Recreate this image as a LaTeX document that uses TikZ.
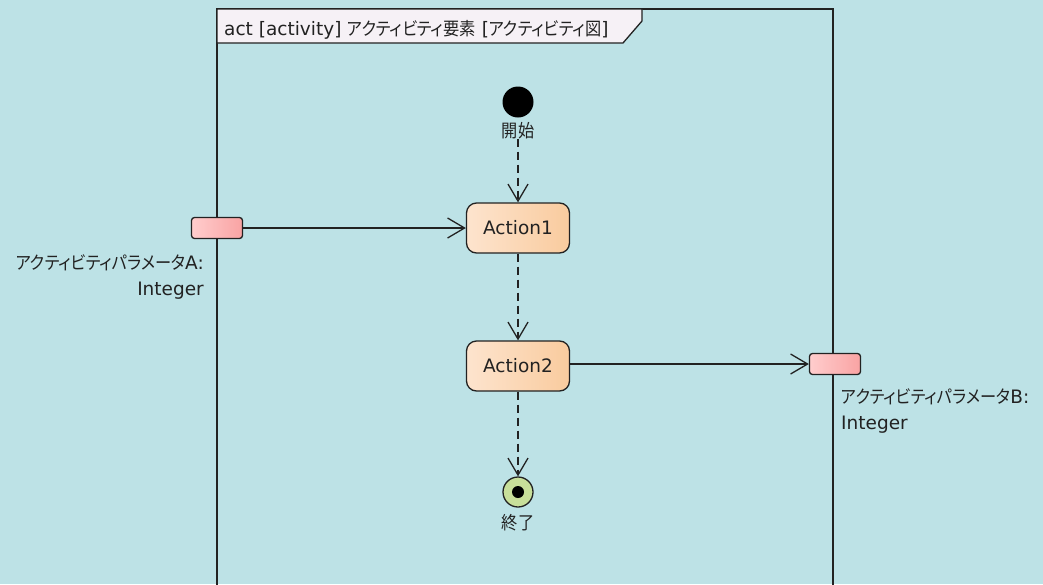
\documentclass[tikz,border=0pt]{standalone}
\usepackage{fontspec}
\setmainfont{DejaVu Sans}
\newfontfamily\jp{Noto Sans CJK JP}[RawFeature=+palt, FakeStretch=0.9]
\usetikzlibrary{arrows.meta}
\definecolor{bg}{HTML}{BDE2E6}
\definecolor{line}{HTML}{222222}
\definecolor{actL}{HTML}{FDE4CE}
\definecolor{actR}{HTML}{F9CB9E}
\definecolor{pinL}{HTML}{FFCDCD}
\definecolor{pinR}{HTML}{F9A3A3}
\definecolor{finfill}{HTML}{C8DF9A}
\definecolor{tabfill}{HTML}{F6F1F6}
\newcommand{\J}[1]{{\jp\fontsize{18}{25}\selectfont #1}}
\tikzset{
  actbox/.style={draw=line, line width=1.3pt, rounded corners=10pt, minimum width=103pt, minimum height=50pt, left color=actL, right color=actR, inner sep=0pt, font=\fontsize{18.5}{25}\selectfont, text=line},
  pinbox/.style={draw=line, line width=1.3pt, rounded corners=3pt, minimum width=51pt, minimum height=21pt, left color=pinL, right color=pinR, inner sep=0pt},
  lbl/.style={font=\fontsize{18.5}{25}\selectfont, text=line, inner sep=0pt},
  flow/.style={draw=line, line width=1.3pt, -{Straight Barb[length=17pt,width=20pt,line width=1.3pt]}},
  ctrl/.style={flow, dash pattern=on 8pt off 5pt},
}
\begin{document}
\begin{tikzpicture}[x=1pt,y=-1pt]
\fill[bg] (0,0) rectangle (1043,584);
\useasboundingbox (0,0) rectangle (1043,584);
% frame
\draw[line, line width=1.5pt] (217,590) -- (217,9) -- (833,9) -- (833,590);
\draw[line, line width=1.3pt, fill=tabfill] (217,9) -- (642,9) -- (642,21) -- (623,43) -- (217,43) -- cycle;
\node[lbl, anchor=base west] (title) at (224,35) {act [activity] \J{アクティビティ要素} [\J{アクティビティ図}]};
% nodes
\node[circle, fill=black, minimum size=31pt, inner sep=0pt] (init) at (518,102) {};
\node[lbl, anchor=base] (initlbl) at (518,137) {\J{開始}};
\node[actbox] (a1) at (518,228) {Action1};
\node[actbox] (a2) at (518,366) {Action2};
\node[circle, draw=line, line width=1.3pt, fill=finfill, minimum size=30pt, inner sep=0pt] (fin) at (518,492) {};
\node[circle, fill=black, minimum size=12pt, inner sep=0pt] (fininner) at (518,492) {};
\node[lbl, anchor=base] (finlbl) at (518,529) {\J{終了}};
\node[pinbox] (pa) at (217,228) {};
\node[pinbox] (pb) at (835,364) {};
\node[lbl, anchor=base east] (palbl1) at (204,269) {\J{アクティビティパラメータ}A:};
\node[lbl, anchor=base east] (palbl2) at (204,295) {Integer};
\node[lbl, anchor=base west] (pblbl1) at (841,403) {\J{アクティビティパラメータ}B:};
\node[lbl, anchor=base west] (pblbl2) at (841,429) {Integer};
% edges
\draw[ctrl] (initlbl.south) -- (a1.north);
\draw[ctrl] (a1.south) -- (a2.north);
\draw[ctrl] (a2.south) -- (fin.north);
\draw[flow] (pa.east) -- (a1.west);
\draw[flow] (a2.east |- pb.west) -- (pb.west);
\end{tikzpicture}
\end{document}
